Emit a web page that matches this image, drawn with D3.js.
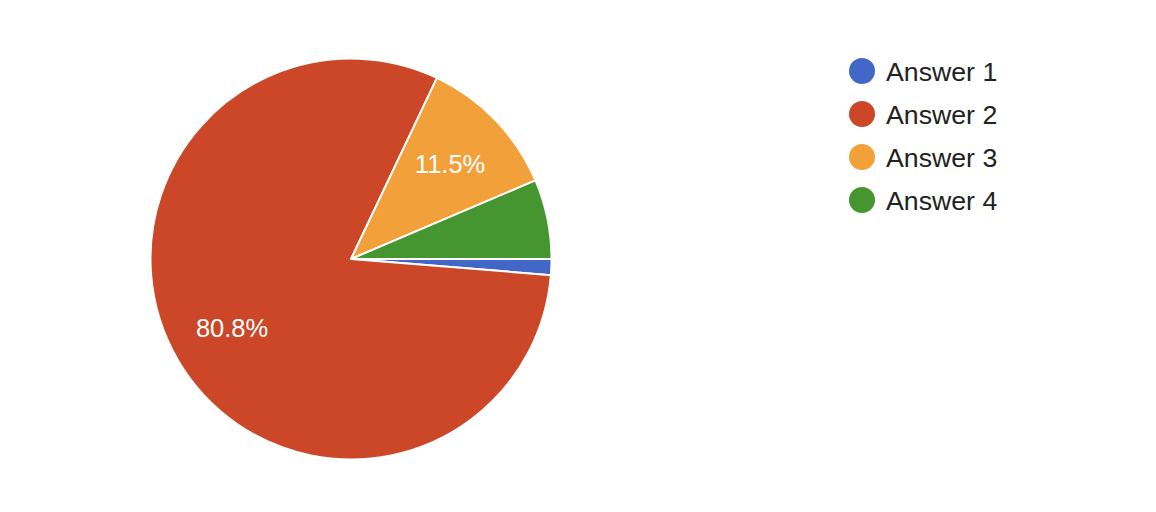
<!DOCTYPE html>
<html><head><meta charset="utf-8">
<script src="https://cdn.jsdelivr.net/npm/d3@7"></script>
<style>html,body{margin:0;padding:0;background:#fff;}svg{display:block;}</style>
</head><body>
<svg id="chart" width="1156" height="512"></svg>
<script>
const categories = ["Answer 1", "Answer 2", "Answer 3", "Answer 4"];
const counts = [1, 63, 9, 5];
const colors = ["#4267c7", "#cc4727", "#f2a03a", "#459530"];

const W = 1156, H = 512;
const cx = 351, cy = 259, R = 200.5;
const svg = d3.select("#chart");
const font = "'Liberation Sans', Arial, Helvetica, sans-serif";

const total = d3.sum(counts);
const pie = d3.pie().sort(null).value(d => d)
  .startAngle(Math.PI / 2).endAngle(Math.PI / 2 + 2 * Math.PI);
const arcs = pie(counts);
const arc = d3.arc().innerRadius(0).outerRadius(R);
const labelArc = d3.arc().innerRadius(R * 0.685).outerRadius(R * 0.685);
const color = d3.scaleOrdinal().domain(categories).range(colors);

const g = svg.append("g").attr("transform", `translate(${cx},${cy})`);
g.selectAll("path").data(arcs).enter().append("path")
  .attr("d", arc)
  .attr("fill", (d, i) => color(categories[i]))
  .attr("stroke", "#fff").attr("stroke-width", 2).attr("stroke-linejoin", "round");

g.selectAll("text").data(arcs.filter(d => (d.endAngle - d.startAngle) / (2 * Math.PI) > 0.1))
  .enter().append("text")
  .attr("transform", d => `translate(${labelArc.centroid(d)})`)
  .attr("text-anchor", "middle").attr("dy", "0.36em")
  .attr("fill", "#fff").attr("font-family", font).attr("font-size", 25.5)
  .text(d => (d.value / total * 100).toFixed(1) + "%");

const legend = svg.append("g").attr("transform", "translate(862,71)");
const ly = d3.scalePoint().domain(categories).range([0, 129]);
const items = legend.selectAll("g").data(categories).enter().append("g")
  .attr("transform", d => `translate(0,${ly(d)})`);
items.append("circle").attr("r", 13).attr("fill", d => color(d));
items.append("text").attr("x", 24).attr("y", 0).attr("dy", "0.36em")
  .attr("font-family", font).attr("font-size", 26.7).attr("fill", "#222")
  .text(d => d);
</script>
</body></html>
